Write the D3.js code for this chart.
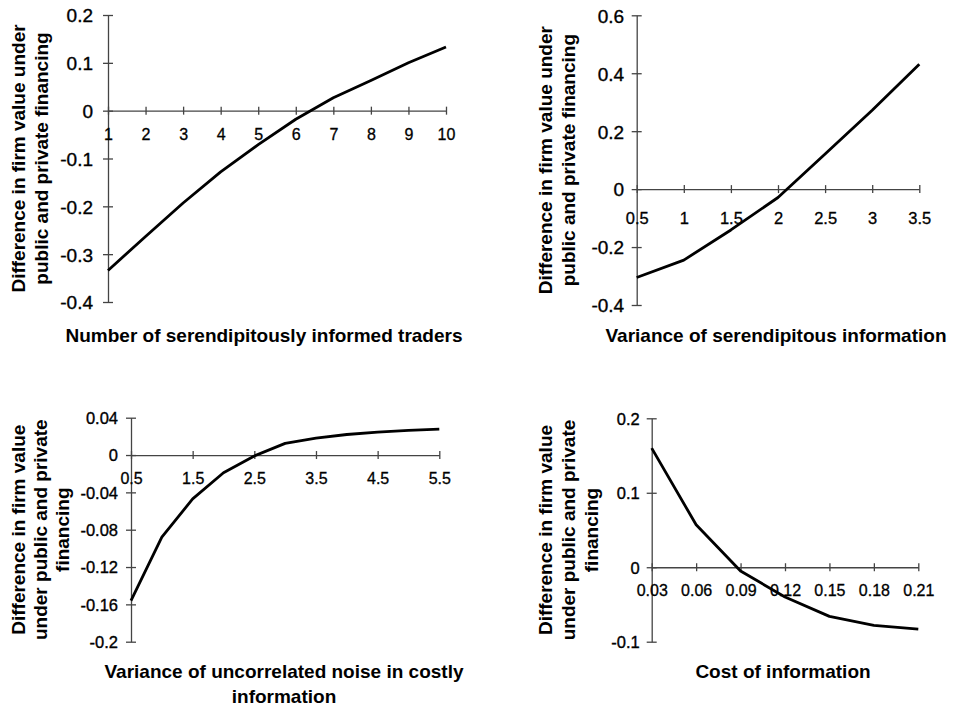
<!DOCTYPE html>
<html><head><meta charset="utf-8">
<script src="https://cdn.jsdelivr.net/npm/d3@7"></script>
<style>
html,body{margin:0;padding:0;background:#fff;}
svg{display:block;font-family:"Liberation Sans",Arial,Helvetica,sans-serif;}
</style></head>
<body>
<svg id="c" width="963" height="707"></svg>
<script>
// ---- Data ----
const tradersX = [1,2,3,4,5,6,7,8,9,10];
const tradersY = [-0.334,-0.263,-0.193,-0.128,-0.071,-0.018,0.027,0.063,0.100,0.133];
const tradersXTicks = ["1","2","3","4","5","6","7","8","9","10"];
const tradersYTicks = ["-0.4","-0.3","-0.2","-0.1","0","0.1","0.2"];

const serendipX = [0.5,1,1.5,2,2.5,3,3.5];
const serendipY = [-0.305,-0.245,-0.141,-0.029,0.121,0.272,0.431];
const serendipXTicks = ["0.5","1","1.5","2","2.5","3","3.5"];
const serendipYTicks = ["-0.4","-0.2","0","0.2","0.4","0.6"];

const noiseX = [0.5,1,1.5,2,2.5,3,3.5,4,4.5,5,5.5];
const noiseY = [-0.156,-0.088,-0.047,-0.019,-0.001,0.0125,0.018,0.022,0.0246,0.0264,0.0278];
const noiseXTicks = ["0.5","1.5","2.5","3.5","4.5","5.5"];
const noiseYTicks = ["-0.2","-0.16","-0.12","-0.08","-0.04","0","0.04"];

const costX = [0.03,0.06,0.09,0.12,0.15,0.18,0.21];
const costY = [0.160,0.057,-0.005,-0.040,-0.066,-0.078,-0.083];
const costXTicks = ["0.03","0.06","0.09","0.12","0.15","0.18","0.21"];
const costYTicks = ["-0.1","0","0.1","0.2"];

const yTitle2 = ["Difference in firm value under","public and private financing"];
const yTitle3 = ["Difference in firm value","under public and private","financing"];
const xTitle1 = ["Number of serendipitously informed traders"];
const xTitle2 = ["Variance of serendipitous information"];
const xTitle3 = ["Variance of uncorrelated noise in costly","information"];
const xTitle4 = ["Cost of information"];

const svg = d3.select("#c");
const FONT = "Liberation Sans, Arial, sans-serif";

function panel(o){
  const g = svg.append("g");
  const xv = o.xTicks.map(Number), yv = o.yTicks.map(Number);
  const x = d3.scaleLinear().domain([xv[0], xv[xv.length-1]]).range([o.x0, o.x1]);
  const y = d3.scaleLinear().domain([yv[0], yv[yv.length-1]]).range([o.y1, o.y0]);
  const axisCol = "#444";
  // y axis
  const ya = g.append("g").attr("transform",`translate(${o.x0},0)`)
    .call(d3.axisLeft(y).tickValues(yv).tickFormat((d,i)=>o.yTicks[i]).tickSizeOuter(0));
  ya.select(".domain").attr("stroke",axisCol).attr("stroke-width",1.3);
  ya.selectAll(".tick line").attr("x1",-5).attr("x2",5).attr("stroke",axisCol).attr("stroke-width",1.3);
  ya.selectAll(".tick text").attr("x",-o.yGap).attr("dy","0.36em")
    .attr("font-size",o.yFs).attr("fill","#000").attr("stroke","#000").attr("stroke-width",0.35)
    .attr("font-family",FONT);
  // x axis at y=0
  const xa = g.append("g").attr("transform",`translate(0,${y(0)})`)
    .call(d3.axisBottom(x).tickValues(xv).tickFormat((d,i)=>o.xTicks[i]).tickSizeOuter(0));
  xa.select(".domain").attr("stroke",axisCol).attr("stroke-width",1.3);
  xa.selectAll(".tick line").attr("y1",-4).attr("y2",4).attr("stroke",axisCol).attr("stroke-width",1.3);
  xa.selectAll(".tick text").attr("y",o.xOff).attr("dy",0)
    .attr("font-size",o.xFs).attr("fill","#000").attr("stroke","#000").attr("stroke-width",0.3)
    .attr("font-family",FONT);
  // curve
  const pts = o.xs.map((d,i)=>[d,o.ys[i]]);
  g.append("path").datum(pts)
    .attr("d", d3.line().x(d=>x(d[0])).y(d=>y(d[1])))
    .attr("fill","none").attr("stroke","#000").attr("stroke-width",2.8)
    .attr("stroke-linejoin","round");
  // y title
  const cy = (o.y0+o.y1)/2;
  o.yTitle.forEach((t,i)=>{
    g.append("text").attr("transform",`translate(${o.ytx[i]},${cy}) rotate(-90)`)
      .attr("text-anchor","middle").attr("font-weight","bold").attr("font-size",19)
      .attr("font-family",FONT).attr("fill","#000").text(t);
  });
  // x title
  o.xTitle.forEach((t,i)=>{
    g.append("text").attr("x",o.xtx).attr("y",o.xty[i])
      .attr("text-anchor","middle").attr("font-weight","bold").attr("font-size",19)
      .attr("font-family",FONT).attr("fill","#000").text(t);
  });
}

panel({xs:tradersX, ys:tradersY, xTicks:tradersXTicks, yTicks:tradersYTicks,
  x0:108, x1:446, y0:15, y1:302, yGap:15, yFs:19, xFs:16, xOff:29,
  yTitle:yTitle2, ytx:[25,48], xTitle:xTitle1, xtx:264, xty:[342]});

panel({xs:serendipX, ys:serendipY, xTicks:serendipXTicks, yTicks:serendipYTicks,
  x0:636.7, x1:919.3, y0:15.3, y1:305, yGap:12.5, yFs:19, xFs:16.5, xOff:35,
  yTitle:yTitle2, ytx:[552,575], xTitle:xTitle2, xtx:776, xty:[342]});

panel({xs:noiseX, ys:noiseY, xTicks:noiseXTicks, yTicks:noiseYTicks,
  x0:131, x1:439.3, y0:417.7, y1:641.7, yGap:13, yFs:16.5, xFs:16, xOff:29,
  yTitle:yTitle3, ytx:[25,47,69], xTitle:xTitle3, xtx:284, xty:[678,703]});

panel({xs:costX, ys:costY, xTicks:costXTicks, yTicks:costYTicks,
  x0:651.7, x1:918.3, y0:418.3, y1:641.7, yGap:12, yFs:16.5, xFs:16, xOff:29,
  yTitle:yTitle3, ytx:[552,575,598], xTitle:xTitle4, xtx:783, xty:[678]});
</script>
</body></html>
